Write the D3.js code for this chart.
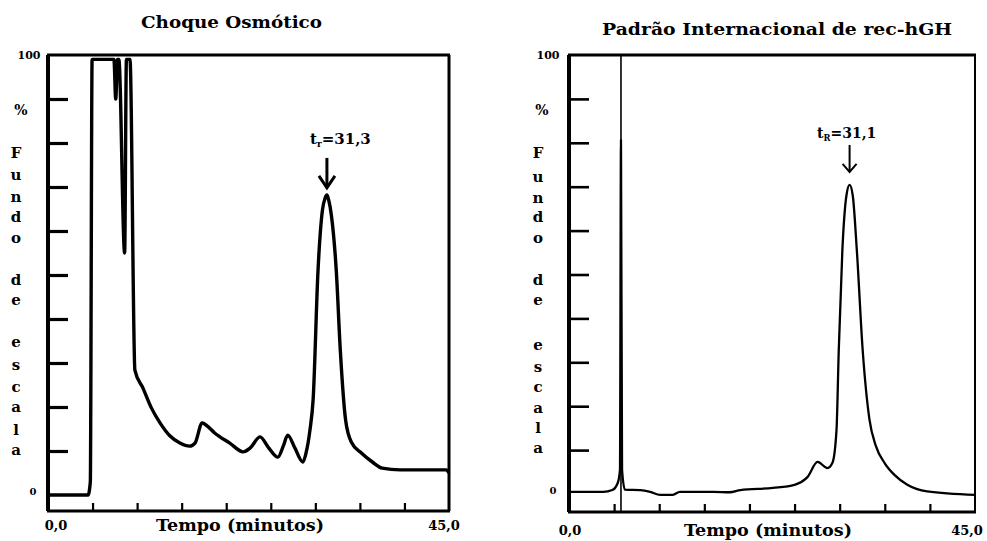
<!DOCTYPE html>
<html>
<head>
<meta charset="utf-8">
<script src="https://cdn.jsdelivr.net/npm/d3@7/dist/d3.min.js"></script>
<style>
  html, body { margin: 0; padding: 0; background: #fff; }
  svg { display: block; }
  text { font-family: "DejaVu Serif", "Liberation Serif", serif; font-weight: bold; fill: #000; }
</style>
</head>
<body>
<svg id="chart" width="987" height="541"></svg>
<script>
// Chromatogram traces: time (min) and detector response (% of full scale)
const osmoticTime   = [0, 4.5, 4.75, 4.95, 7.4, 7.6, 7.8, 7.95, 8.6, 8.8, 9.2, 9.75, 10.66, 11.6, 12.57, 13.7, 14.8, 15.9, 16.5, 17.3, 17.85, 18.7, 20.4, 21.9, 22.7, 23.8, 24.7, 25.8, 26.4, 26.9, 27.7, 28.6, 28.95, 29.4, 29.75, 30.3, 30.8, 31.1, 31.3, 31.5, 31.8, 32.35, 32.8, 33.4, 34.05, 35.2, 36.4, 37.5, 39.5, 44.7, 45];
const osmoticSignal = [0, 0, 3, 99, 99, 90, 99, 99, 55, 99, 99, 28.4, 24.3, 19.8, 16.4, 13.4, 11.8, 11.1, 11.8, 16.4, 15.7, 14.1, 11.8, 9.8, 10.7, 13.2, 10.9, 8.6, 11.1, 13.6, 10.7, 7.5, 9.5, 14.8, 21.6, 51, 64.8, 67.5, 68.2, 67, 63.6, 51, 33, 17, 12, 9.5, 7.5, 6.1, 5.7, 5.7, 5.0];

const standardTime   = [0, 3.8, 4.8, 5.4, 5.65, 5.76, 5.88, 6.2, 7.9, 9.0, 10.1, 11.5, 12.3, 16.0, 17.8, 19.0, 22.6, 25.0, 26.45, 27.55, 28.65, 29.2, 29.65, 29.9, 30.3, 30.75, 31.1, 31.45, 31.9, 32.55, 33.3, 34.0, 35.0, 36.1, 37.5, 39.7, 45];
const standardSignal = [0.5, 0.5, 0.9, 2.5, 5.5, 80.6, 5.5, 1.0, 0.9, 0.5, -0.2, -0.2, 0.5, 0.5, 0.4, 0.9, 1.4, 2.1, 3.9, 7.3, 5.9, 7.1, 14.6, 32.8, 55.6, 68, 70.4, 68, 55.6, 32.8, 17, 11, 7, 4.3, 2.1, 0.6, -0.2];

// Injection marker on the standard run (min)
const standardInjection = 5.76;

// Retention times of the hGH peak (min)
const osmoticRetention  = 31.3;
const standardRetention = 31.1;

// Axis ticks and labels
const timeTicks   = [5, 10, 15, 20, 25, 30, 35, 40];
const signalTicks = [10, 20, 30, 40, 50, 60, 70, 80, 90];
const timeDomain  = [0, 45];
const signalDomain = [0, 100];
const timeStartLabel = "0,0";
const timeEndLabel   = "45,0";
const timeAxisTitle  = "Tempo (minutos)";
const signalTopLabel = "100";
const signalUnitLabel = "%";
const signalZeroLabel = "0";
const signalAxisLetters = ["F", "u", "n", "d", "o", "d", "e", "e", "s", "c", "a", "l", "a"];
const panelTitles = ["Choque Osmótico", "Padrão Internacional de rec-hGH"];
const retentionLabels = ["31,3", "31,1"];

const svg = d3.select("#chart");

function drawPanel(cfg) {
  const g = svg.append("g");
  const x = d3.scaleLinear().domain(timeDomain).range([cfg.left, cfg.right]);
  const y = d3.scaleLinear().domain(signalDomain).range([cfg.zeroY, cfg.top]);

  // Signal ticks (pointing inward from the left frame)
  const yAxis = g.append("g")
    .attr("transform", `translate(${cfg.left},0)`)
    .call(d3.axisLeft(y).tickValues(signalTicks).tickSize(-20).tickFormat(""));
  yAxis.select(".domain").remove();
  yAxis.selectAll(".tick line").attr("stroke", "#000").attr("stroke-width", cfg.tickW);

  // Time ticks (pointing up from the bottom frame)
  const xAxis = g.append("g")
    .attr("transform", `translate(0,${cfg.bottom})`)
    .call(d3.axisBottom(x).tickValues(timeTicks).tickSize(-8).tickFormat(""));
  xAxis.select(".domain").remove();
  xAxis.selectAll(".tick line").attr("stroke", "#000").attr("stroke-width", 2.2);

  // Frame
  g.append("line").attr("x1", cfg.left - 1).attr("x2", cfg.right + 1).attr("y1", cfg.top).attr("y2", cfg.top)
    .attr("stroke", "#000").attr("stroke-width", 3);
  g.append("line").attr("x1", cfg.left - 1).attr("x2", cfg.right + 1).attr("y1", cfg.bottom).attr("y2", cfg.bottom)
    .attr("stroke", "#000").attr("stroke-width", 3);
  g.append("line").attr("x1", cfg.left).attr("x2", cfg.left).attr("y1", cfg.top).attr("y2", cfg.bottom)
    .attr("stroke", "#000").attr("stroke-width", 4);
  g.append("line").attr("x1", cfg.right).attr("x2", cfg.right).attr("y1", cfg.top).attr("y2", cfg.bottom)
    .attr("stroke", "#000").attr("stroke-width", cfg.rightW);

  // Injection marker line
  if (cfg.marker !== undefined) {
    g.append("line")
      .attr("x1", x(cfg.marker)).attr("x2", x(cfg.marker))
      .attr("y1", cfg.top).attr("y2", cfg.bottom)
      .attr("stroke", "#000").attr("stroke-width", 1.6);
  }

  // Trace
  const data = cfg.time.map((t, i) => [t, cfg.signal[i]]);
  const line = d3.line().x(d => x(d[0])).y(d => y(d[1])).curve(d3.curveMonotoneX);
  g.append("path").datum(data)
    .attr("d", line)
    .attr("fill", "none")
    .attr("stroke", "#000")
    .attr("stroke-width", cfg.traceW)
    .attr("stroke-linejoin", "round");

  // Retention time annotation with arrow
  const peakIdx = cfg.time.indexOf(cfg.retention);
  const ax = x(cfg.retention);
  const tipY = y(cfg.signal[peakIdx]) - cfg.arrowGap;
  g.append("line").attr("x1", ax).attr("x2", ax).attr("y1", tipY - cfg.arrowLen).attr("y2", tipY)
    .attr("stroke", "#000").attr("stroke-width", cfg.arrowW);
  g.append("path")
    .attr("d", `M${ax - cfg.headW},${tipY - cfg.headH} L${ax},${tipY} L${ax + cfg.headW},${tipY - cfg.headH}`)
    .attr("fill", "none").attr("stroke", "#000").attr("stroke-width", cfg.arrowW);

  const lab = g.append("text")
    .attr("x", cfg.labelX).attr("y", cfg.labelY)
    .attr("font-size", cfg.labelSize);
  lab.append("tspan").text("t");
  lab.append("tspan").attr("font-size", cfg.labelSize * 0.6).attr("dy", 3).text(cfg.sub);
  lab.append("tspan").attr("dy", -3).text("=" + cfg.labelText);

  // Title
  g.append("text")
    .attr("x", cfg.titleX).attr("y", cfg.titleY)
    .attr("font-size", cfg.titleSize)
    .attr("textLength", cfg.titleLen).attr("lengthAdjust", "spacingAndGlyphs")
    .text(cfg.title);

  // Time axis labels
  g.append("text").attr("x", cfg.left + cfg.startDx).attr("y", cfg.xLabelY)
    .attr("text-anchor", "middle").attr("font-size", 13).text(timeStartLabel);
  g.append("text").attr("x", cfg.right + cfg.endDx).attr("y", cfg.xLabelY)
    .attr("text-anchor", "middle").attr("font-size", 13).text(timeEndLabel);
  g.append("text").attr("x", cfg.axisTitleX).attr("y", cfg.xLabelY + 1)
    .attr("font-size", 16)
    .attr("textLength", 168).attr("lengthAdjust", "spacingAndGlyphs")
    .text(timeAxisTitle);

  // Signal axis labels
  g.append("text").attr("x", cfg.topLabelX).attr("y", cfg.top + 4)
    .attr("text-anchor", "middle").attr("font-size", 11).text(signalTopLabel);
  g.append("text").attr("x", cfg.unitX).attr("y", 115)
    .attr("text-anchor", "middle").attr("font-size", 14).text(signalUnitLabel);
  g.append("text").attr("x", cfg.zeroLabelX).attr("y", cfg.zeroY)
    .attr("text-anchor", "middle").attr("font-size", 10).text(signalZeroLabel);

  g.append("g").selectAll("text")
    .data(signalAxisLetters)
    .join("text")
    .attr("x", cfg.letterX)
    .attr("y", (d, i) => cfg.letterY[i])
    .attr("text-anchor", "middle")
    .attr("font-size", 15)
    .text(d => d);
}

drawPanel({
  left: 48, right: 449, top: 55, bottom: 511, zeroY: 495,
  time: osmoticTime, signal: osmoticSignal, traceW: 3.4,
  tickW: 3.2, rightW: 3,
  retention: osmoticRetention, sub: "r", labelText: retentionLabels[0],
  labelX: 310, labelY: 144, labelSize: 15,
  arrowGap: 7, arrowLen: 30, arrowW: 3, headW: 8, headH: 12,
  title: panelTitles[0], titleX: 141, titleY: 28, titleSize: 16, titleLen: 181,
  xLabelY: 530, startDx: 8, endDx: -5, axisTitleX: 156,
  topLabelX: 29, zeroLabelX: 33, letterX: 16, unitX: 21,
  letterY: [158, 180, 202, 222, 243, 285, 305, 347, 370, 392, 412, 435, 455]
});

drawPanel({
  left: 569, right: 975, top: 55, bottom: 512, zeroY: 494,
  time: standardTime, signal: standardSignal, traceW: 2.3,
  tickW: 2.6, rightW: 2,
  marker: standardInjection,
  retention: standardRetention, sub: "R", labelText: retentionLabels[1],
  labelX: 817, labelY: 138, labelSize: 14,
  arrowGap: 13, arrowLen: 27, arrowW: 2, headW: 7, headH: 8,
  title: panelTitles[1], titleX: 602, titleY: 35, titleSize: 16, titleLen: 350,
  xLabelY: 535, startDx: 1, endDx: -8, axisTitleX: 684,
  topLabelX: 548, zeroLabelX: 553, letterX: 538, unitX: 542,
  letterY: [158, 182, 203, 222, 243, 285, 305, 350, 372, 392, 413, 433, 453]
});
</script>
</body>
</html>
